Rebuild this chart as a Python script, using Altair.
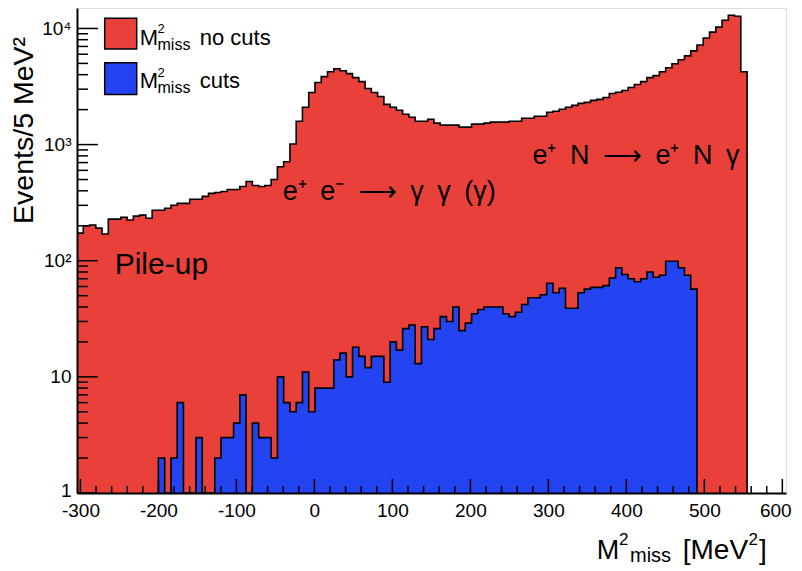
import altair as alt
import pandas as pd

# ---------------- data ----------------
BIN_START = -304.4          # left edge of first bin [MeV^2]
BIN_WIDTH = 8.03            # bin width [MeV^2]
BLUE_FIRST_BIN = 13         # blue histogram starts at bin index 13

red_counts = [
    173, 199, 203, 191, 170, 228, 228, 237, 224, 242,
    247, 232, 272, 272, 283, 300, 312, 312, 338, 338,
    358, 380, 387, 395, 411, 411, 436, 481, 444, 436,
    444, 500, 645, 711, 1013, 1590, 2094, 2810, 3420, 3846,
    4242, 4500, 4326, 4080, 3772, 3487, 3038, 2810, 2597, 2220,
    2094, 1974, 1825, 1720, 1590, 1590, 1654, 1529, 1470, 1470,
    1470, 1414, 1414, 1500, 1500, 1529, 1560, 1560, 1560, 1590,
    1590, 1687, 1687, 1755, 1755, 1898, 1936, 2013, 2094, 2177,
    2264, 2310, 2402, 2449, 2547, 2755, 2820, 2922, 3099, 3287,
    3487, 3772, 3922, 4242, 4588, 4964, 5370, 5808, 6406, 7206,
    8269, 9301, 10260, 11770, 12980, 12730, 4242,
]

blue_counts = [
    2, 0, 2, 6, 0, 0, 3, 0, 0, 2,
    3, 3, 4, 7, 0, 4, 3, 3, 2, 10,
    6, 5, 6, 11, 5, 8, 8, 8, 14, 16,
    10, 18, 15, 12, 15, 15, 9, 20, 17, 26,
    28, 13, 27, 21, 26, 33, 30, 40, 25, 29,
    35, 38, 40, 40, 40, 35, 33, 36, 42, 48,
    48, 51, 64, 53, 58, 39, 39, 53, 57, 59,
    59, 61, 71, 87, 76, 70, 66, 70, 80, 72,
    75, 99, 99, 87, 75, 57,
]

x_tick_values = [-300, -200, -100, 0, 100, 200, 300, 400, 500, 600]
x_minor_ticks = [v for v in range(-300, 601, 20) if v % 100 != 0]
y_tick_values = [1, 10, 100, 1000, 10000]
y_tick_labels = ["1", "10", "10²", "10³", "10⁴"]
y_minor_ticks = [m * 10 ** d for d in range(0, 4) for m in range(2, 10)]

legend_labels = ["no cuts", "cuts"]

# ---------------- layout / style ----------------
W, H = 709, 485
X_DOMAIN = [-304.4, 604.7]
Y_DOMAIN = [1, 15000]
RED = "#E9403A"
BLUE = "#2443F1"
FONT = "Liberation Sans"

xs = alt.Scale(domain=X_DOMAIN, nice=False, zero=False)
ys = alt.Scale(type="log", domain=Y_DOMAIN, nice=False)

label_expr = " : ".join(
    f"datum.value == {v} ? '{l}'" for v, l in zip(y_tick_values[:-1], y_tick_labels[:-1])
) + f" : '{y_tick_labels[-1]}'"

x_axis = alt.Axis(values=x_tick_values, labelExpr="'' + datum.value", labelFontSize=19,
                  labelFont=FONT, labelColor="black", ticks=False, labelPadding=8,
                  labelOffset={"condition": {"test": "datum.value == 600", "value": -7}, "value": 0},
                  domainColor="black", domainWidth=2, grid=False, labelFlush=False,
                  labelOverlap=False, title=None, zindex=2)
y_axis = alt.Axis(values=y_tick_values, labelExpr=label_expr, labelFontSize=19,
                  labelFont=FONT, labelColor="black", ticks=False, labelPadding=6,
                  labelOffset={"condition": {"test": "datum.value == 1", "value": -3}, "value": 0},
                  domainColor="black", domainWidth=2, grid=False, labelFlush=False,
                  labelOverlap=False, title=None, zindex=2)


def X(field):
    return alt.X(field, scale=xs, axis=x_axis)


def Y(field, **kw):
    return alt.Y(field, scale=ys, axis=y_axis, **kw)


def step_frame(counts, first_bin, lead):
    rows = []
    if lead:
        rows.append({"x": BIN_START + first_bin * BIN_WIDTH, "c": 1})
    for k, c in enumerate(counts):
        rows.append({"x": BIN_START + (first_bin + k) * BIN_WIDTH, "c": max(c, 1)})
    rows.append({"x": BIN_START + (first_bin + len(counts)) * BIN_WIDTH, "c": 1})
    df = pd.DataFrame(rows)
    df["o"] = range(len(df))
    return df


def fill(counts, first_bin, color):
    return alt.Chart(step_frame(counts, first_bin, False)).mark_area(
        interpolate="step-after", color=color, opacity=1
    ).encode(x=X("x:Q"), y=Y("c:Q", stack=None), y2=alt.datum(1))


def outline(counts, first_bin, lead):
    return alt.Chart(step_frame(counts, first_bin, lead)).mark_line(
        interpolate="step-after", color="black", strokeWidth=1.6
    ).encode(x=X("x:Q"), y=Y("c:Q"), order="o:Q")


def xticks(vals, length):
    return alt.Chart(pd.DataFrame({"t": vals})).mark_rule(color="black", strokeWidth=1.5).encode(
        x=X("t:Q"), y=alt.value(H), y2=alt.value(H - length))


def yticks(vals, length):
    return alt.Chart(pd.DataFrame({"t": vals})).mark_rule(color="black", strokeWidth=1.5).encode(
        y=Y("t:Q"), x=alt.value(0), x2=alt.value(length))


def label(text, px, py, size, align="left", baseline="alphabetic", angle=0):
    return alt.Chart(pd.DataFrame({"t": [text]})).mark_text(
        align=align, baseline=baseline, fontSize=size, font=FONT, color="black", angle=angle
    ).encode(x=alt.value(px), y=alt.value(py), text="t:N")


def swatch(color, y0, y1):
    return alt.Chart(pd.DataFrame({"a": [0]})).mark_rect(
        fill=color, stroke="black", strokeWidth=1.5
    ).encode(x=alt.value(27.7), x2=alt.value(59.7), y=alt.value(y0), y2=alt.value(y1))


texts = [
    # legend
    label("M", 62.7, 36.9, 22), label("2", 80.5, 25.0, 13), label("miss", 80.5, 41.8, 16),
    label(legend_labels[0], 122.7, 36.9, 22),
    label("M", 62.7, 80.4, 22), label("2", 80.5, 68.6, 13), label("miss", 80.5, 85.4, 16),
    label(legend_labels[1], 122.7, 80.4, 22),
    # annotations
    label("Pile-up", 37.7, 266.4, 30),
    label("e⁺\u2002e⁻\u2002⟶\u2002γ\u2002γ\u2002(γ)", 205.7, 192.2, 27),
    label("e⁺\u2002N\u2002⟶\u2002e⁺\u2002N\u2002γ", 455.4, 155.6, 27),
    # axis titles
    label("Events/5 MeV²", -53.3, 29.0, 28.5, align="right", baseline="middle", angle=270),
    label("M", 519.7, 551.3, 27), label("2", 542.0, 537.4, 17), label("miss", 553.0, 554.3, 20),
    label("[MeV", 605.7, 551.3, 28), label("2", 671.5, 537.4, 17), label("]", 682.0, 551.3, 28),
]

chart = alt.layer(
    fill(red_counts, 0, RED),
    outline(red_counts, 0, False),
    fill(blue_counts, BLUE_FIRST_BIN, BLUE),
    outline(blue_counts, BLUE_FIRST_BIN, True),
    xticks(x_tick_values, 14), xticks(x_minor_ticks, 7),
    yticks(y_tick_values, 21), yticks(y_minor_ticks, 11),
    swatch(RED, 10.2, 40.9), swatch(BLUE, 54.7, 86.4),
    *texts,
).properties(
    width=W, height=H,
    padding={"left": 69, "top": 0, "right": 8, "bottom": 72},
    autosize=alt.AutoSizeParams(type="none"),
).configure_view(
    stroke="#555555", strokeWidth=1.5
).configure(background="white")

chart.save("out.html", embed_options={"renderer": "svg", "actions": False})
